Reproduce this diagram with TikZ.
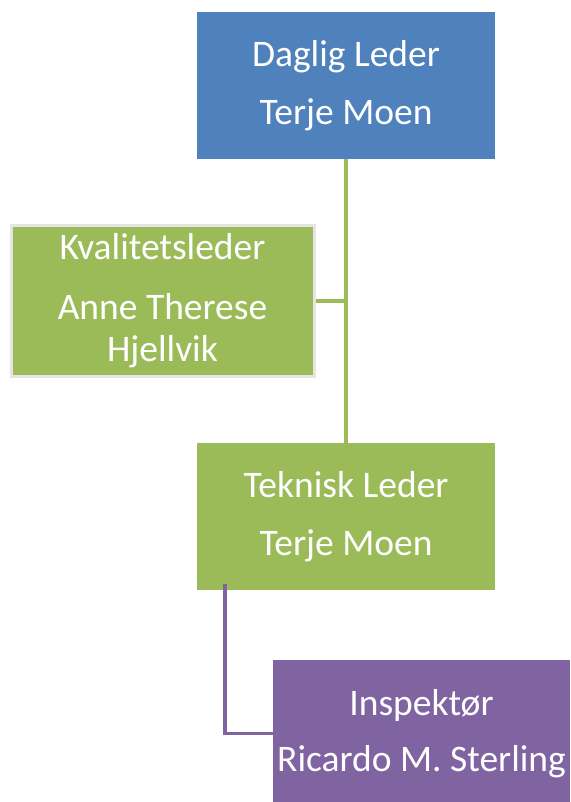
\documentclass[tikz,border=0pt]{standalone}
\usepackage{fontspec}
\setmainfont{Carlito}
\usepackage{xcolor}
\usepackage{tikz}
\usetikzlibrary{calc,positioning}

\definecolor{orgblue}{HTML}{4F81BD}
\definecolor{orggreen}{HTML}{9BBB59}
\definecolor{orgpurple}{HTML}{8064A2}

\begin{document}
\begin{tikzpicture}[x=1pt,y=-1pt]

\useasboundingbox (0,0) rectangle (570,802);

\tikzstyle{orgbox} = [rectangle, draw=none, text=white, align=center, minimum width=298pt, minimum height=147pt, inner sep=0pt, font=\fontsize{37.5}{42}\selectfont]
\tikzstyle{orgline} = [line width=3.5pt]

\node (dl) [orgbox,fill=orgblue] at (346,85.5) {Daglig Leder\\[16pt]Terje Moen};
\node (kl) [orgbox,fill=orggreen,draw=gray!20,line width=3pt,minimum width=303pt,minimum height=151pt] at (162.5,301) {Kvalitetsleder\\[18pt]Anne Therese\\Hjellvik};
\node (tl) [orgbox,fill=orggreen] at (346,516.5) {Teknisk Leder\\[16pt]Terje Moen};
\node (ins) [orgbox,fill=orgpurple,minimum width=297pt] at (421.5,733.5) {Inspektør\\[14pt]Ricardo M. Sterling};

\draw [orgline,orggreen] (dl.south) -- ([yshift=-3pt]tl.north);
\draw [orgline,orggreen] (kl.east) -- (kl.east -| dl.south);
\draw [orgline,orgpurple] ([xshift=28pt,yshift=6pt]tl.south west) |- (ins.west);

\end{tikzpicture}
\end{document}
